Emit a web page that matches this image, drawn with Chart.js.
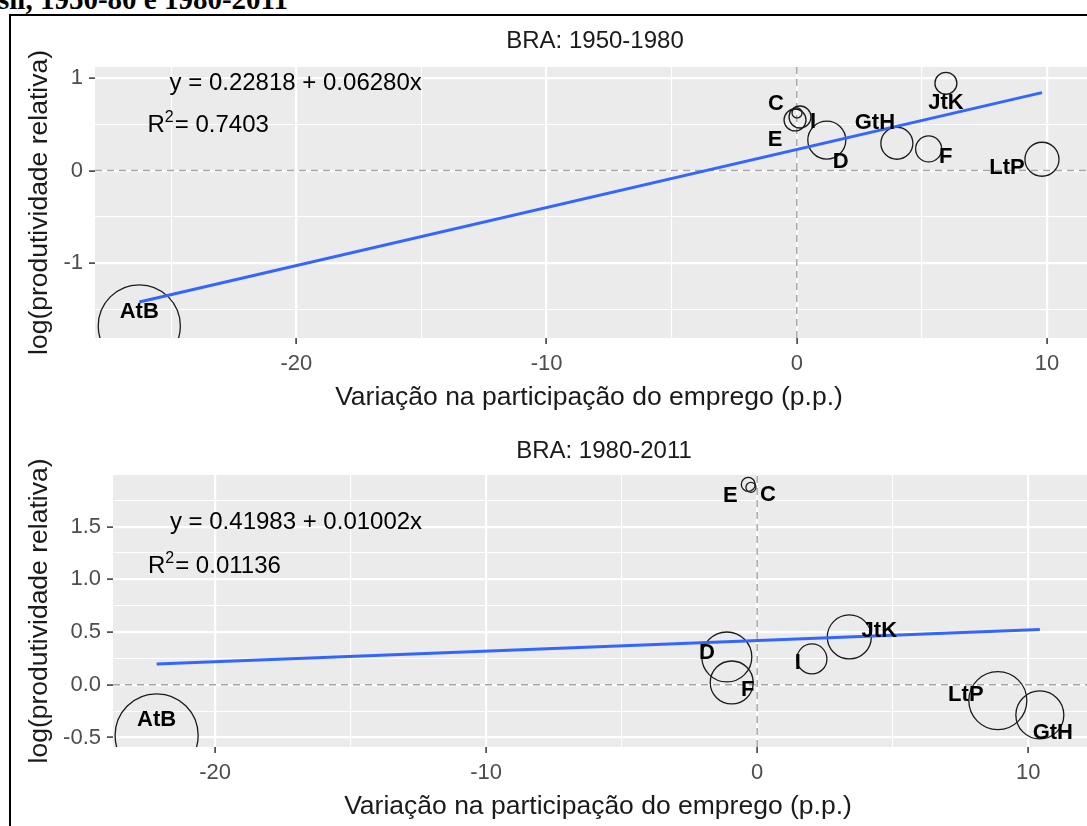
<!DOCTYPE html>
<html>
<head>
<meta charset="utf-8">
<script src="https://cdn.jsdelivr.net/npm/chart.js@4.4.1/dist/chart.umd.min.js"></script>
<style>
  body { margin: 0; background: #fff; width: 1087px; height: 826px; overflow: hidden; position: relative; }
  #fig-title { position: absolute; left: -2px; top: -15px; font: bold 29px "Liberation Serif", "Times New Roman", serif; line-height: 29px; white-space: nowrap; color: #000; }
  #frame { position: absolute; left: 9px; top: 14px; width: 1100px; height: 840px; border-left: 2px solid #000; border-top: 2px solid #000; }
  canvas { position: absolute; left: 0; }
  #c1 { top: 0; }
  #c2 { top: 420px; }
</style>
</head>
<body>
<div id="fig-title">sil, 1950-80 e 1980-2011</div>
<div id="frame"></div>
<canvas id="c1" width="1087" height="420"></canvas>
<canvas id="c2" width="1087" height="406"></canvas>
<script>
const setores = ['AtB', 'C', 'D', 'E', 'F', 'GtH', 'I', 'JtK', 'LtP'];

// BRA 1950-1980
const varEmprego1950 = [-26.28, 0.01, 1.20, -0.07, 5.27, 4.00, 0.13, 5.96, 9.80];
const logProd1950 = [-1.68, 0.624, 0.33, 0.548, 0.235, 0.296, 0.58, 0.945, 0.123];
const peso1950 = [20.8, 0.31, 4.46, 1.49, 2.09, 3.16, 1.49, 1.49, 3.57];
const intercepto1950 = 0.22818, inclinacao1950 = 0.06280, r2_1950 = '0.7403';

// BRA 1980-2011
const varEmprego1980 = [-22.16, -0.23, -1.12, -0.33, -0.94, 10.43, 2.02, 3.40, 8.88];
const logProd1980 = [-0.48, 1.873, 0.264, 1.901, 0.022, -0.286, 0.245, 0.454, -0.15];
const peso1980 = [21.3, 0.31, 7.7, 0.6, 5.7, 7.1, 2.78, 5.98, 10.4];
const intercepto1980 = 0.41983, inclinacao1980 = 0.01002, r2_1980 = '0.01136';

const FONTE = '"Liberation Sans", Arial, sans-serif';

// deslocamento dos rotulos (px) em relacao ao centro do circulo
const rotulos1950 = [[0, -14], [-21, -9], [14, 22], [-20, 20], [17, 8], [-22, -20], [13, 5], [0, 20], [-35, 9]];
const rotulos1980 = [[0, -15], [17, 8], [-20, -4], [-18, 12], [16, 7], [13, 18], [-14, 4], [30, -6], [-32, -6]];

const painelPlugin = {
  id: 'painel',
  beforeDraw(chart) {
    const {ctx, chartArea: a} = chart;
    ctx.save();
    ctx.fillStyle = '#EBEBEB';
    ctx.fillRect(a.left, a.top, a.right - a.left, a.bottom - a.top);
    ctx.restore();
  },
  afterDraw(chart, args, opts) {
    const {ctx, chartArea: a, scales: {x, y}} = chart;
    ctx.save();
    ctx.fillStyle = '#000';

    // rotulos dos setores
    const meta = chart.getDatasetMeta(2);
    ctx.font = 'bold 22px ' + FONTE;
    ctx.textAlign = 'center';
    ctx.textBaseline = 'middle';
    meta.data.forEach((el, i) => {
      const o = opts.rotulos[i];
      ctx.fillText(setores[i], el.x + o[0], el.y + o[1]);
    });

    // equacao e R2
    ctx.textAlign = 'left';
    ctx.textBaseline = 'alphabetic';
    ctx.font = '24px ' + FONTE;
    ctx.fillText(opts.eq, x.getPixelForValue(opts.eqPos[0]), y.getPixelForValue(opts.eqPos[1]));
    let rx = x.getPixelForValue(opts.r2Pos[0]);
    const ry = y.getPixelForValue(opts.r2Pos[1]);
    ctx.fillText('R', rx, ry);
    rx += ctx.measureText('R').width;
    ctx.font = '16px ' + FONTE;
    ctx.fillText('2', rx, ry - 10);
    rx += ctx.measureText('2').width + 1;
    ctx.font = '24px ' + FONTE;
    ctx.fillText('= ' + opts.r2, rx, ry);

    // titulos
    ctx.textAlign = 'center';
    ctx.textBaseline = 'middle';
    ctx.fillStyle = '#1A1A1A';
    ctx.font = '24px ' + FONTE;
    ctx.fillText(opts.titulo, (a.left + a.right) / 2 + 4, a.top + opts.tituloDy);
    ctx.font = '26.5px ' + FONTE;
    ctx.fillText('Variação na participação do emprego (p.p.)', (a.left + a.right) / 2 - 2, a.bottom + 60);
    ctx.translate(40, (a.top + a.bottom) / 2);
    ctx.rotate(-Math.PI / 2);
    ctx.fillText('log(produtividade relativa)', 0, 0);
    ctx.restore();
  }
};

function ehMaior(v, passo) {
  const q = v / passo;
  return Math.abs(q - Math.round(q)) < 1e-6;
}

function montarGrafico(id, cfg) {
  const pontos = cfg.x.map((v, i) => ({x: v, y: cfg.y[i], r: 9 * Math.sqrt(cfg.peso[i])}));
  const xMin = Math.min(...cfg.x), xMax = Math.max(...cfg.x);
  const reta = [
    {x: xMin, y: cfg.a + cfg.b * xMin},
    {x: xMax, y: cfg.a + cfg.b * xMax}
  ];
  const tracejado = {type: 'line', borderColor: '#A6A6A6', borderWidth: 1.5, borderDash: [7, 5], pointRadius: 0, fill: false};

  new Chart(document.getElementById(id), {
    type: 'bubble',
    data: {
      datasets: [
        Object.assign({data: [{x: cfg.xLim[0], y: 0}, {x: cfg.xLim[1], y: 0}], order: 4}, tracejado),
        Object.assign({data: [{x: 0, y: cfg.yLim[0]}, {x: 0, y: cfg.yLim[1]}], order: 3}, tracejado),
        {data: pontos, backgroundColor: 'rgba(0,0,0,0)', borderColor: '#1A1A1A', borderWidth: 1.3, clip: 0, order: 2},
        {type: 'line', data: reta, borderColor: '#3366FF', borderWidth: 3, pointRadius: 0, fill: false, order: 1}
      ]
    },
    options: {
      responsive: false,
      animation: false,
      events: [],
      layout: {padding: cfg.pad, autoPadding: false},
      plugins: {
        legend: {display: false},
        tooltip: {enabled: false},
        painel: {
          rotulos: cfg.rotulos, titulo: cfg.titulo, tituloDy: cfg.tituloDy,
          eq: cfg.eq, eqPos: cfg.eqPos, r2: cfg.r2, r2Pos: cfg.r2Pos
        }
      },
      scales: {
        x: {
          type: 'linear', min: cfg.xLim[0], max: cfg.xLim[1],
          afterFit: s => { s.height = 40; },
          border: {display: false},
          grid: {
            color: '#FFFFFF',
            lineWidth: c => ehMaior(c.tick.value, 10) ? 2.2 : 1.1,
            tickLength: 6,
            tickWidth: 1.5,
            tickColor: c => ehMaior(c.tick.value, 10) ? '#333333' : 'rgba(0,0,0,0)'
          },
          ticks: {
            stepSize: 5, includeBounds: false, autoSkip: false, maxRotation: 0, padding: 7,
            color: '#4D4D4D', font: {family: FONTE, size: 22},
            callback: v => ehMaior(v, 10) ? String(Math.round(v)) : ''
          }
        },
        y: {
          type: 'linear', min: cfg.yLim[0], max: cfg.yLim[1],
          afterFit: s => { s.width = 50; },
          border: {display: false},
          grid: {
            color: '#FFFFFF',
            lineWidth: c => ehMaior(c.tick.value, cfg.yMaior) ? 2.2 : 1.1,
            tickLength: 6,
            tickWidth: 1.5,
            tickColor: c => ehMaior(c.tick.value, cfg.yMaior) ? '#333333' : 'rgba(0,0,0,0)'
          },
          ticks: {
            stepSize: cfg.yMaior / 2, includeBounds: false, autoSkip: false, padding: 6,
            color: '#4D4D4D', font: {family: FONTE, size: 22},
            callback: v => ehMaior(v, cfg.yMaior) ? cfg.fmt(v) : ''
          }
        }
      }
    },
    plugins: [painelPlugin]
  });
}

montarGrafico('c1', {
  x: varEmprego1950, y: logProd1950, peso: peso1950,
  a: intercepto1950, b: inclinacao1950, r2: r2_1950,
  eq: 'y = 0.22818 + 0.06280x', eqPos: [-25.07, 0.872], r2Pos: [-25.95, 0.422],
  titulo: 'BRA: 1950-1980', tituloDy: -26,
  xLim: [-28.05, 11.6], yLim: [-1.811, 1.121], yMaior: 1,
  fmt: v => String(Math.round(v)),
  rotulos: rotulos1950,
  pad: {left: 45, top: 67, right: 0, bottom: 42}
});

montarGrafico('c2', {
  x: varEmprego1980, y: logProd1980, peso: peso1980,
  a: intercepto1980, b: inclinacao1980, r2: r2_1980,
  eq: 'y = 0.41983 + 0.01002x', eqPos: [-21.67, 1.476], r2Pos: [-22.48, 1.064],
  titulo: 'BRA: 1980-2011', tituloDy: -24,
  xLim: [-23.77, 12.17], yLim: [-0.59, 1.99], yMaior: 0.5,
  fmt: v => v.toFixed(1),
  rotulos: rotulos1980,
  pad: {left: 63, top: 55, right: 0, bottom: 39}
});
</script>
</body>
</html>
